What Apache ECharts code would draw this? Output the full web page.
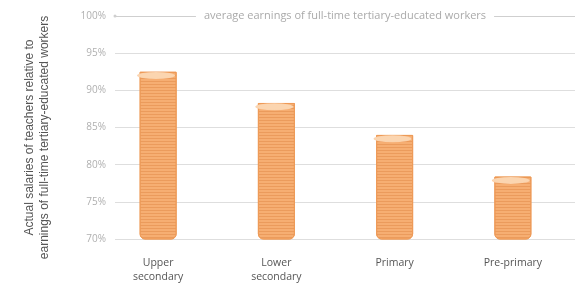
<!DOCTYPE html>
<html><head><meta charset="utf-8">
<script src="https://cdn.jsdelivr.net/npm/echarts@6/dist/echarts.min.js"></script>
<style>html,body{margin:0;padding:0;background:#fff}#c{width:581px;height:284px}</style>
</head><body><div id="c"></div>
<script>
const categories = ["Upper\nsecondary", "Lower\nsecondary", "Primary", "Pre-primary"];
const values = [92.5, 88.3, 84.0, 78.4];
const yTicks = [70, 75, 80, 85, 90, 95, 100];
const refValue = 100;
const refLabel = "average earnings of full-time tertiary-educated workers";
const yName = "Actual salaries of teachers relative to\nearnings of full-time tertiary-educated workers";

const chart = echarts.init(document.getElementById('c'), null, {renderer: 'canvas'});
const font = '"Open Sans", sans-serif';
chart.setOption({
  animation: false,
  grid: [
    {left: 115, right: 6, top: 16, bottom: 45, outerBoundsMode: 'none', containLabel: false},
    {left: 99, right: 9, top: 16, bottom: 45, outerBoundsMode: 'none', containLabel: false}
  ],
  xAxis: [
    {gridIndex: 0, type: 'category', data: categories, show: false},
    {gridIndex: 1, type: 'category', data: categories,
     axisLine: {show: false}, axisTick: {show: false},
     axisLabel: {margin: 17, color: '#555', fontSize: 10.5, lineHeight: 14, fontFamily: font}}
  ],
  yAxis: [
    {gridIndex: 0, type: 'value', min: yTicks[0], max: yTicks[yTicks.length - 1], interval: 5,
     axisLine: {show: false}, axisTick: {show: false},
     axisLabel: {margin: 9, color: '#b0b0b0', fontSize: 10, fontFamily: font, formatter: v => v + '%'},
     splitLine: {lineStyle: {color: '#dedede', width: 1}},
     name: yName, nameLocation: 'middle', nameGap: 63, nameRotate: 90,
     nameTextStyle: {color: '#555', fontSize: 12, lineHeight: 15, padding: [0, 20, 0, 0],
                     fontFamily: '"Liberation Sans", sans-serif'}},
    {gridIndex: 1, type: 'value', min: yTicks[0], max: yTicks[yTicks.length - 1], interval: 5, show: false}
  ],
  series: [
    {type: 'line', xAxisIndex: 0, yAxisIndex: 0, data: [], silent: true,
     markLine: {silent: true, symbol: ['circle', 'none'], symbolSize: 3,
       lineStyle: {color: '#cfcfcf', type: 'solid', width: 1},
       label: {position: 'middle', distance: 0, verticalAlign: 'middle', formatter: refLabel,
               color: '#aaa', fontSize: 11, fontFamily: font,
               backgroundColor: '#fff', padding: [2, 8]},
       data: [{yAxis: refValue}]}},
    {type: 'bar', xAxisIndex: 1, yAxisIndex: 1, data: values, barWidth: 37,
     itemStyle: {color: '#f6ae72', borderColor: '#ee9b58', borderWidth: 1, borderRadius: [0, 0, 5, 5],
       decal: {symbol: 'rect', symbolSize: 1, dashArrayX: [1, 0], dashArrayY: [1, 2], rotation: 0,
               color: 'rgba(226,140,75,0.55)'}}},
    {type: 'pictorialBar', xAxisIndex: 1, yAxisIndex: 1, data: values, symbol: 'circle',
     symbolPosition: 'end', symbolSize: [38, 7], symbolOffset: [-2, 0], z: 4,
     itemStyle: {color: '#fbd5b0', borderColor: '#ee9b58', borderWidth: 1.5}}
  ]
});
</script></body></html>
